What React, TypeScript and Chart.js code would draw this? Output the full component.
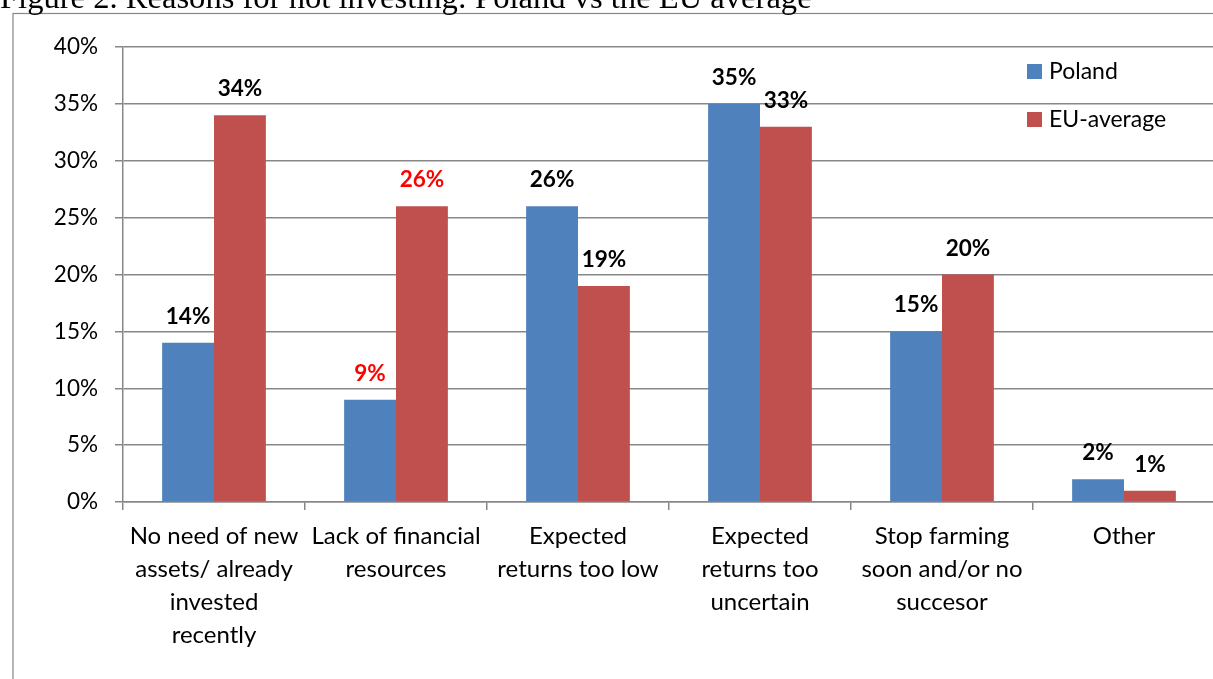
import React, { useEffect, useRef } from "react";
import { Chart, registerables } from "chart.js";

Chart.register(...registerables);

const titleText = "Figure 2. Reasons for not investing: Poland vs the EU average";
const categories: string[][] = [
  ["No need of new", "assets/ already", "invested", "recently"],
  ["Lack of financial", "resources"],
  ["Expected", "returns too low"],
  ["Expected", "returns too", "uncertain"],
  ["Stop farming", "soon and/or no", "succesor"],
  ["Other"],
];
const seriesNames = ["Poland", "EU-average"];
const poland = [14, 9, 26, 35, 15, 2];
const euAverage = [34, 26, 19, 33, 20, 1];
const highlightCategories = [1];
const yMin = 0;
const yMax = 40;
const yStep = 5;

const FONT = "Lato, 'Open Sans', sans-serif";
const GRID = "#878787";

const framePlugin = {
  id: "frameTitle",
  beforeDraw(chart: any) {
    const ctx = chart.ctx;
    ctx.save();
    ctx.fillStyle = "#ffffff";
    ctx.fillRect(0, 0, chart.width, chart.height);
    ctx.strokeStyle = GRID;
    ctx.lineWidth = 1.2;
    ctx.strokeRect(13, 13.5, chart.width + 20, chart.height + 20);
    ctx.fillStyle = "#000000";
    ctx.font = "32.6px 'Liberation Serif', 'Times New Roman', serif";
    ctx.textAlign = "left";
    ctx.textBaseline = "alphabetic";
    ctx.fillText(titleText, 0, 8);
    ctx.restore();
  },
};

const labelPlugin = {
  id: "valueLabels",
  afterDatasetsDraw(chart: any) {
    const ctx = chart.ctx;
    ctx.save();
    ctx.font = `bold 22.5px ${FONT}`;
    ctx.textAlign = "center";
    ctx.textBaseline = "alphabetic";
    chart.data.datasets.forEach((ds: any, di: number) => {
      const meta = chart.getDatasetMeta(di);
      meta.data.forEach((bar: any, i: number) => {
        ctx.fillStyle = highlightCategories.includes(i) ? "#FF0000" : "#000000";
        ctx.fillText(`${ds.data[i]}%`, bar.x, bar.y - 19);
      });
    });
    ctx.restore();
  },
};

const legendPlugin = {
  id: "customLegend",
  afterDraw(chart: any) {
    const ctx = chart.ctx;
    ctx.save();
    ctx.font = `23px ${FONT}`;
    ctx.textBaseline = "middle";
    ctx.textAlign = "left";
    chart.data.datasets.forEach((ds: any, di: number) => {
      const cy = 71 + di * 48;
      ctx.fillStyle = ds.backgroundColor;
      ctx.fillRect(1027, cy - 7, 15, 15);
      ctx.fillStyle = "#000000";
      ctx.fillText(ds.label, 1049, cy + 1);
    });
    ctx.restore();
  },
};

export default function App() {
  const ref = useRef<HTMLCanvasElement | null>(null);
  useEffect(() => {
    if (!ref.current) return;
    const chart = new Chart(ref.current, {
      type: "bar",
      data: {
        labels: categories,
        datasets: [
          { label: seriesNames[0], data: poland, backgroundColor: "#4F81BD", borderWidth: 0 },
          { label: seriesNames[1], data: euAverage, backgroundColor: "#C0504D", borderWidth: 0 },
        ],
      },
      options: {
        responsive: false,
        animation: false,
        devicePixelRatio: 1,
        layout: { padding: { left: 0, top: 47, right: 25, bottom: 0 } },
        plugins: { legend: { display: false }, tooltip: { enabled: false }, title: { display: false } },
        datasets: { bar: { categoryPercentage: 0.57, barPercentage: 1 } },
        scales: {
          x: {
            grid: { offset: true, drawOnChartArea: false, drawTicks: true, tickLength: 8, color: GRID, lineWidth: 1.5 },
            border: { color: GRID, width: 1.5 },
            ticks: { color: "#000", font: { family: FONT, size: 24, lineHeight: 1.375 }, padding: 10, maxRotation: 0, autoSkip: false },
            afterFit: (s: any) => { s.height = 198; },
          },
          y: {
            min: yMin,
            max: yMax,
            grid: { color: GRID, tickLength: 8, lineWidth: 1.5 },
            border: { color: GRID, width: 1.5 },
            ticks: { stepSize: yStep, color: "#000", font: { family: FONT, size: 22.5 }, padding: 17, callback: (v: any) => `${v}%` },
            afterFit: (s: any) => { s.width = 123; },
          },
        },
      },
      plugins: [framePlugin, labelPlugin, legendPlugin],
    });
    return () => chart.destroy();
  }, []);
  return (
    <div style={{ position: "fixed", left: 0, top: 0, width: 1213, height: 679, overflow: "hidden", background: "#fff" }}>
      <canvas ref={ref} width={1240} height={700} style={{ display: "block" }} />
    </div>
  );
}
